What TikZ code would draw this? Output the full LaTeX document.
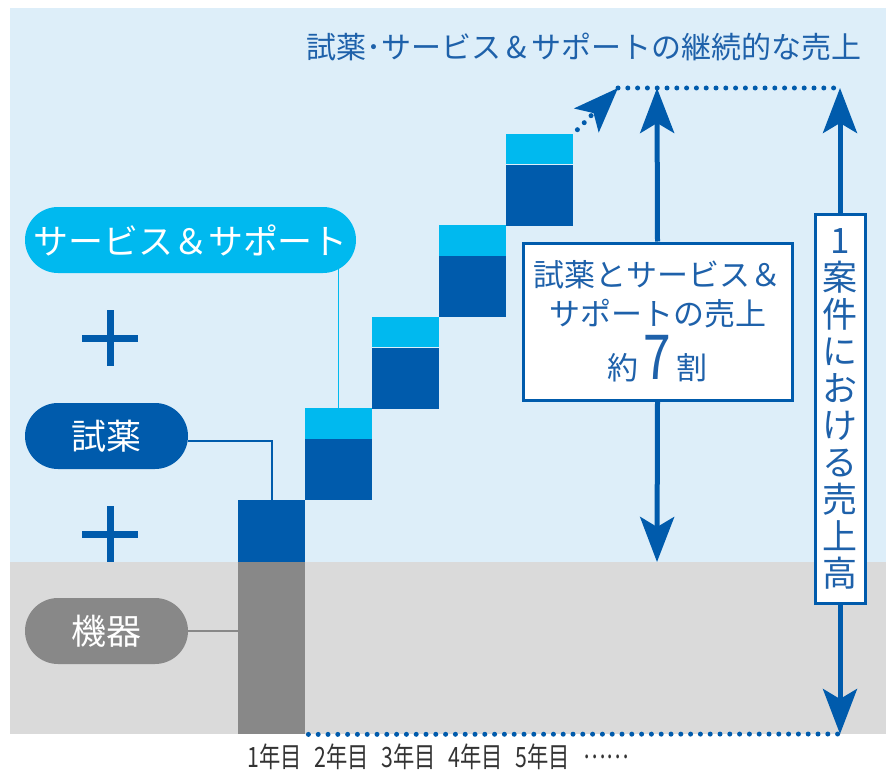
\documentclass[tikz,border=0pt]{standalone}
\usepackage{fontspec}
\setmainfont{Noto Sans CJK JP}
\usetikzlibrary{arrows.meta}

\definecolor{bgblue}{RGB}{221,238,249}
\definecolor{bggray}{RGB}{218,218,218}
\definecolor{navy}{RGB}{0,91,172}
\definecolor{skyb}{RGB}{0,185,239}
\definecolor{bargray}{RGB}{136,136,136}
\definecolor{titleblue}{RGB}{30,97,170}
\definecolor{yeartext}{RGB}{51,51,51}

\begin{document}
\begin{tikzpicture}[x=1pt,y=-1pt,
  pill/.style={rounded corners=33pt, minimum height=66pt, inner sep=0pt, text=white,
    font=\fontsize{35}{35}\selectfont},
  blk/.style={inner sep=0pt, minimum width=67pt},
  bigarrow/.style={line width=5pt, draw=navy, -{Stealth[length=45pt,width=34pt,inset=10pt]}},
  dots/.style={line width=5pt, draw=navy, line cap=round, dash pattern=on 0pt off 9.8pt},
  infobox/.style={draw=navy, line width=3pt, fill=white, inner sep=0pt, text=titleblue}]

\useasboundingbox (0,0) rectangle (886,773);
\fill[bgblue] (10,8) rectangle (886,562);
\fill[bggray] (10,562) rectangle (886,734);

% title
\node[anchor=east, text=titleblue, font=\fontsize{30}{30}\selectfont] (title) at (865,47)
  {試薬･サービス\,\&\,サポートの継続的な売上};

% bars
\node[blk, fill=bargray, minimum height=172pt, anchor=north west] (bar) at (238,562) {};
\node[blk, fill=navy, minimum height=61.5pt, anchor=south west] (d1) at (238,562) {};
\foreach \k in {2,...,5}{
  \pgfmathsetmacro\xl{238+67*(\k-1)}
  \pgfmathsetmacro\yb{500.5-91.5*(\k-2)}
  \node[blk, fill=navy, minimum height=61pt, anchor=south west] (d\k) at (\xl,\yb) {};
  \node[blk, fill=skyb, minimum height=30.5pt, anchor=south] (c\k) at (d\k.north) {};
}

% labels on the left
\node[pill, fill=skyb, minimum width=331pt] (svc) at (190.5,240) {サービス＆サポート};
\node[pill, fill=navy, minimum width=163pt] (reagent) at (106.5,436) {試薬};
\node[pill, fill=bargray, minimum width=163pt] (device) at (106.5,631) {機器};

\draw[skyb, line width=1.5pt, shorten >=-5pt] (c2.north) -- (c2.north |- svc.south);
\draw[navy, line width=2pt] ([yshift=-5pt]reagent.east) -| (d1.north);
\draw[bargray, line width=2pt] (device.east) -- (device.east -| bar.west);

\foreach \py in {338,534}{
  \draw[navy, line width=7pt] (110,\py-28) -- (110,\py+28) (82,\py) -- (138,\py);
}

% share of reagent and service
\node[infobox, minimum width=269pt, minimum height=157pt, align=center,
  font=\fontsize{31}{39}\selectfont] (share) at (657.5,321.5)
  {試薬とサービス＆\\サポートの売上\\[6pt]約\,{\fontsize{62}{50}\selectfont\scalebox{0.8}[1]{7}}\,割};
\node[infobox, minimum width=50pt, minimum height=389pt, align=center,
  font=\fontsize{35}{37}\selectfont] (total) at (840,408.5)
  {1\\案\\件\\に\\お\\け\\る\\売\\上\\高};

\coordinate (tA) at (657,88);
\coordinate (bA) at (657,562);
\coordinate (tB) at (840,88);
\coordinate (bB) at (840,734);
\coordinate (up) at (618,88);

\draw[bigarrow] (share.north) -- (tA);
\draw[bigarrow] (share.south) -- (bA);
\draw[bigarrow] (total.north) -- (tB);
\draw[bigarrow] (total.south) -- (bB);

\draw[dots, -{Stealth[length=45pt,width=34pt,inset=10pt]}] ([shift={(4,-4)}]c5.north east) -- (up);
\draw[dots] (up) -- (tB);
\draw[dots, shorten <=3pt] (bar.south east) -- (bB);

% years
\foreach \k in {1,...,5}{
  \node[text=yeartext, font=\fontsize{28}{28}\selectfont] (y\k) at (274.5+67*\k-67,757)
    {\scalebox{0.76}[1]{\k 年目}};
}
\node[text=yeartext, font=\fontsize{28}{28}\selectfont] (ymore) at (606,757)
  {\scalebox{0.76}[1]{……}};
\end{tikzpicture}
\end{document}
